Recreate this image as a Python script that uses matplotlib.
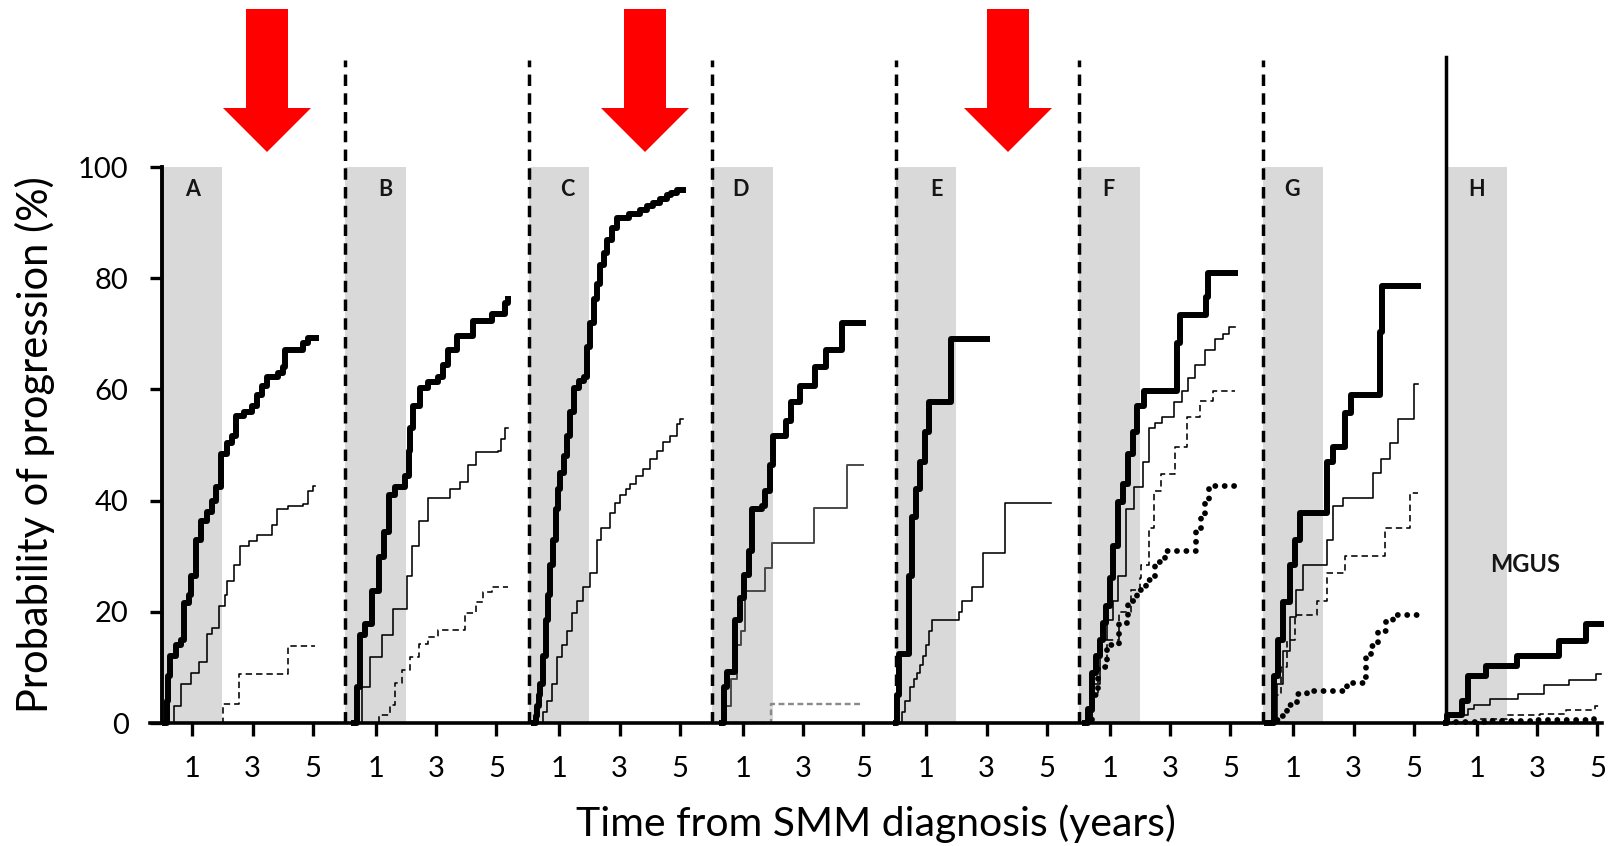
import numpy as np
import matplotlib
matplotlib.use('Agg')
from matplotlib import pyplot as plt
from matplotlib.patches import Polygon

plt.rcParams['font.family'] = ['Lato', 'DejaVu Sans']

# panels and labels
letters = ['A', 'B', 'C', 'D', 'E', 'F', 'G', 'H']
letter_x = [1.0, 1.33, 1.26, 0.92, 1.33, 0.96, 0.95, 0.99]
tick_years = [1, 3, 5]

# panel A
a_thick_t = [0.1, 0.15, 0.2, 0.25, 0.47, 0.63, 0.74, 0.9, 0.96, 1.13, 1.29, 1.5, 1.67, 1.78, 1.95,
             2.16, 2.33, 2.44, 2.71, 2.98, 3.15, 3.31, 3.48, 3.86, 4.02, 4.08, 4.68, 4.84, 5.1]
a_thick_p = [0, 4, 8.5, 12, 14, 15, 21.5, 23, 26.5, 33, 36.4, 38, 40, 42.4, 48.4,
             50.4, 51.7, 55.3, 56, 57, 59, 60.7, 62.3, 63, 64, 67, 68.3, 69.3, 69.3]
a_thin_t = [0.2, 0.41, 0.63, 0.96, 1.23, 1.5, 1.67, 1.89, 2.1, 2.16, 2.38, 2.6, 2.87, 3.15, 3.64,
            3.8, 4.19, 4.68, 4.84, 5.0, 5.08]
a_thin_p = [0, 3, 7, 9, 11, 16, 17, 21, 23, 25.5, 28.4, 31.8, 32.8, 33.8, 35.7,
            38.4, 39, 39.4, 41.7, 42.7, 42.7]
a_dash_t = [2.0, 2.01, 2.55, 4.19, 5.08]
a_dash_p = [0, 3.5, 8.8, 13.8, 13.8]

# panel B
b_thick_t = [0.27, 0.38, 0.49, 0.66, 0.88, 1.1, 1.26, 1.43, 1.65, 1.98, 2.09, 2.14, 2.25, 2.47,
             2.75, 3.08, 3.24, 3.41, 3.68, 4.23, 4.84, 5.27, 5.38]
b_thick_p = [0, 6.5, 15.8, 17.8, 23.8, 29.8, 34.4, 41, 42.4, 44.4, 49, 53, 57, 60.3,
             61.3, 62.3, 64.3, 67, 69.6, 72.3, 73.6, 75.6, 76.3]
b_thin_t = [0.33, 0.55, 0.82, 1.2, 1.59, 2.03, 2.2, 2.42, 2.75, 3.46, 3.79, 4.07, 4.34, 5.05,
            5.16, 5.3, 5.38]
b_thin_p = [0, 6.5, 11.8, 15.8, 20.5, 26.4, 31.8, 36.4, 40.4, 42, 43.4, 46.4, 48.7, 49,
            51, 53, 53]
b_dash_t = [0.77, 1.1, 1.48, 1.65, 1.87, 2.14, 2.42, 2.75, 3.08, 3.96, 4.34, 4.56, 4.84, 5.38]
b_dash_p = [0, 1.5, 3.2, 7.2, 9.5, 11.8, 14.2, 15.5, 16.8, 19.8, 21.8, 23.5, 24.5, 24.5]

# panel C
c_thick_t = [0.16, 0.22, 0.27, 0.33, 0.38, 0.46, 0.55, 0.63, 0.71, 0.8, 0.88, 0.96, 1.04, 1.15,
             1.26, 1.37, 1.48, 1.65, 1.81, 1.92, 2.03, 2.14, 2.25, 2.36, 2.47, 2.58, 2.75,
             2.91, 3.3, 3.68, 3.9, 4.12, 4.35, 4.56, 4.72, 4.89, 5.1]
c_thick_p = [0, 1.2, 3, 5, 7, 12, 18.5, 23, 28.4, 33, 38.4, 42, 45, 48,
             51.7, 56, 60.3, 61.5, 62.3, 67.6, 72, 76.3, 79, 82.3, 84.5, 86.9, 89,
             90.9, 91.5, 92.2, 93, 93.6, 94.2, 94.9, 95.4, 95.9, 95.9]
c_thin_t = [0.27, 0.45, 0.6, 0.75, 0.93, 1.1, 1.25, 1.43, 1.6, 1.8, 2.03, 2.25, 2.4, 2.69,
            2.85, 3.02, 3.2, 3.35, 3.55, 3.79, 4.0, 4.23, 4.45, 4.67, 4.89, 5.02, 5.1]
c_thin_p = [0, 2, 3.9, 7, 11.8, 14, 16.5, 19.8, 22, 24.5, 27, 33, 35, 37.7,
            39.5, 41, 42, 43, 44.5, 45.7, 47.5, 49, 50.5, 51.7, 53.7, 54.7, 54.7]

# panel D
d_thick_t = [0.33, 0.38, 0.49, 0.76, 0.92, 1.03, 1.2, 1.3, 1.63, 1.74, 1.9, 2.01, 2.45, 2.6,
             2.9, 3.4, 3.75, 4.3, 5.0]
d_thick_p = [0, 6.5, 9.2, 18.5, 22.5, 26.6, 31, 38.4, 39, 41.7, 46.4, 51.7, 54.4, 57.7,
             60.7, 64, 67, 72, 72]
d_thin_t = [0.35, 0.45, 0.6, 0.8, 0.95, 1.09, 1.74, 1.96, 3.37, 4.46, 5.0]
d_thin_p = [0, 3, 8, 14, 16.5, 23.8, 27.8, 32.4, 38.7, 46.4, 46.4]
d_dash_t = [0.3, 1.93, 5.0]
d_dash_p = [0, 3.5, 3.5]

# panel E
e_thick_t = [0.0, 0.05, 0.1, 0.43, 0.54, 0.65, 0.8, 0.97, 1.08, 1.83, 3.0]
e_thick_p = [0, 5, 12.5, 26.4, 37, 42, 47, 52.4, 57.7, 69, 69]
e_thin_t = [0.05, 0.2, 0.3, 0.48, 0.6, 0.7, 0.8, 0.91, 1.0, 1.08, 1.18, 2.1, 2.2, 2.53, 2.9,
            3.6, 5.15]
e_thin_p = [0, 2, 4, 6.5, 8, 9, 10.5, 12, 14, 16.5, 18.5, 20, 22, 24.5, 30.5,
            39.5, 39.5]

# panel F
f_thick_t = [0.18, 0.28, 0.4, 0.55, 0.67, 0.78, 0.89, 1.0, 1.11, 1.27, 1.43, 1.6, 1.76, 1.92,
             2.14, 3.23, 3.34, 4.2, 4.26, 5.15]
f_thick_p = [0, 2.5, 9, 12, 15, 18, 21, 26, 31.8, 39.7, 43, 48.4, 52.4, 57,
             59.7, 68.3, 73.3, 76.6, 81, 81]
f_thin_t = [0.2, 0.4, 0.67, 0.9, 1.1, 1.27, 1.54, 1.82, 2.09, 2.3, 2.5, 2.74, 3.12, 3.39, 3.6,
            3.83, 4.15, 4.48, 4.75, 4.97, 5.15]
f_thin_p = [0, 7, 15, 18.5, 22, 26.4, 38.4, 42.4, 47, 53, 54, 55, 57.7, 59.7, 62,
            64.3, 67, 69, 70, 71.3, 71.3]
f_dash_t = [0.2, 0.4, 0.6, 0.9, 1.3, 1.7, 2.0, 2.05, 2.3, 2.47, 2.7, 3.17, 3.55, 3.99, 4.42, 5.15]
f_dash_p = [0, 5, 10, 15, 20, 24, 26, 28.4, 35, 41.7, 44.7, 49.7, 55, 58, 59.7, 59.7]
f_dot_t = [0.2, 0.4, 0.6, 0.9, 1.3, 1.6, 1.9, 2.2, 2.5, 2.83, 3.87, 4.03, 4.15, 4.3, 5.15]
f_dot_p = [0, 5, 10, 14, 18, 22, 24, 25.8, 29, 31, 34.4, 37, 40, 42.7, 42.7]

# panel G
g_thick_t = [0.13, 0.35, 0.5, 0.68, 0.9, 1.05, 1.23, 2.13, 2.33, 2.71, 2.93, 3.87, 3.95, 5.15]
g_thick_p = [0, 8.5, 15, 21.8, 28.4, 33, 37.7, 47, 49.7, 55.7, 59, 70.3, 78.6, 78.6]
g_thin_t = [0.2, 0.45, 0.68, 0.9, 1.1, 1.34, 2.11, 2.33, 2.66, 3.65, 3.9, 4.2, 4.47, 5.02, 5.15]
g_thin_p = [0, 7, 13, 19, 24, 28.4, 33, 39, 40.4, 45, 47.5, 50.4, 54.7, 61, 61]
g_dash_t = [0.2, 0.4, 0.6, 0.8, 1.07, 1.78, 2.11, 2.72, 4.03, 4.86, 5.15]
g_dash_p = [0, 5, 10, 15, 19.5, 22, 27, 30, 35, 41.4, 41.4]
g_dot_t = [0.25, 0.4, 0.57, 0.79, 1.12, 1.45, 2.77, 3.32, 3.43, 3.59, 3.82, 4.09, 4.31, 5.15]
g_dot_p = [0, 0.6, 1.2, 3.2, 5.2, 5.8, 7.2, 8.2, 11.8, 13.8, 16.5, 18.5, 19.5, 19.5]

# panel H (MGUS)
h_thick_t = [0.0, 0.02, 0.5, 0.72, 1.3, 2.35, 3.72, 4.63, 5.12]
h_thick_p = [0, 1.5, 4, 8.5, 10.3, 12, 14.8, 17.8, 17.8]
h_thin_t = [0.0, 0.02, 0.72, 0.9, 1.44, 2.36, 3.24, 4.06, 4.97, 5.12]
h_thin_p = [0, 1.5, 2.6, 3.2, 4.4, 5.3, 6.8, 7.7, 8.8, 8.8]
h_dash_t = [0.2, 1.1, 2.0, 3.1, 3.95, 4.93, 5.12]
h_dash_p = [0.2, 0.8, 1.4, 1.7, 2.3, 3.0, 3.0]
h_dot_t = [0.3, 1.5, 3.0, 4.9, 5.12]
h_dot_p = [0.2, 0.4, 0.5, 0.8, 0.8]

curves = [
    (0, a_thick_t, a_thick_p, 'thick'), (0, a_thin_t, a_thin_p, 'thin'), (0, a_dash_t, a_dash_p, 'dash'),
    (1, b_thick_t, b_thick_p, 'thick'), (1, b_thin_t, b_thin_p, 'thin'), (1, b_dash_t, b_dash_p, 'dash'),
    (2, c_thick_t, c_thick_p, 'thick'), (2, c_thin_t, c_thin_p, 'thin'),
    (3, d_thin_t, d_thin_p, 'grey'), (3, d_dash_t, d_dash_p, 'greydash'), (3, d_thick_t, d_thick_p, 'thick'),
    (4, e_thick_t, e_thick_p, 'thick'), (4, e_thin_t, e_thin_p, 'thin'),
    (5, f_dot_t, f_dot_p, 'dot'), (5, f_dash_t, f_dash_p, 'dash'), (5, f_thin_t, f_thin_p, 'thin'),
    (5, f_thick_t, f_thick_p, 'thick'),
    (6, g_dot_t, g_dot_p, 'dot'), (6, g_dash_t, g_dash_p, 'dash'), (6, g_thin_t, g_thin_p, 'thin'),
    (6, g_thick_t, g_thick_p, 'thick'),
    (7, h_dot_t, h_dot_p, 'dot'), (7, h_dash_t, h_dash_p, 'dash'), (7, h_thin_t, h_thin_p, 'thin'),
    (7, h_thick_t, h_thick_p, 'thick'),
]

styles = {
    'thick': dict(color='black', lw=4.3),
    'thin': dict(color='black', lw=1.15),
    'dash': dict(color='black', lw=1.15, ls=(0, (4, 2.5))),
    'dot': dict(color='black', lw=4.2, ls=(0, (0.01, 1.6)), dash_capstyle='round'),
    'grey': dict(color='#4a4a4a', lw=1.4),
    'greydash': dict(color='#8a8a8a', lw=1.7, ls=(0, (2.5, 1.5))),
}

W = 6.08  # width of one panel in years
px_per_year = 30.18

fig = plt.figure(figsize=(16.16, 8.46), dpi=100)
ax = fig.add_axes([150 / 1616, 123 / 846, (1602 - 150) / 1616, 556 / 846])
ax.set_xlim(-12 / px_per_year, (1602 - 162) / px_per_year)
ax.set_ylim(0, 100)

for i in range(len(letters)):
    off = i * W
    ax.axvspan(off, off + 2, color='#d9d9d9', lw=0, zorder=0)
    ax.text(off + letter_x[i], 96, letters[i], fontsize=15.5, fontweight='bold',
            ha='center', va='center', color='#151515')
    if i > 0:
        if i < 7:
            ax.plot([off, off], [0, 119.2], color='black', lw=2.5, ls=(0, (3.3, 2.1)),
                    clip_on=False, zorder=3)
        else:
            ax.plot([off, off], [0, 119.8], color='black', lw=2.5, clip_on=False, zorder=3)

for i, t, p, st in curves:
    ax.step(np.array(t) + i * W, p, where='post', clip_on=False, zorder=4, **styles[st])

ax.text(7 * W + 2.6, 28.5, 'MGUS', fontsize=17, fontweight='bold', ha='center', va='center',
        color='#151515')

# axes styling
for s in ['top', 'right']:
    ax.spines[s].set_visible(False)
ax.spines['left'].set_position(('data', 0))
ax.spines['left'].set_bounds(0, 100)
ax.spines['left'].set_linewidth(2.8)
ax.spines['left'].set_zorder(5)
ax.spines['bottom'].set_linewidth(2.6)
ax.spines['bottom'].set_zorder(5)
ax.set_yticks([0, 20, 40, 60, 80, 100])
ax.set_yticklabels(['0', '20', '40', '60', '80', '100'])
xt = [i * W + y for i in range(len(letters)) for y in tick_years]
ax.set_xticks(xt)
ax.set_xticklabels([str(y) for i in range(len(letters)) for y in tick_years])
ax.tick_params(axis='both', direction='out', length=9, width=2.4, labelsize=21,
               pad=15, colors='black')

fig.text(0.0215, 1 - 445 / 846, 'Probability of progression (%)', rotation=90, fontsize=30,
         ha='center', va='center')
fig.text(0.542, 0.026, 'Time from SMM diagnosis (years)', fontsize=29.5, ha='center', va='center')

# red arrows above panels A, C and E (figure pixels)
arrow_tip_x = [267, 645, 1008]
for x in arrow_tip_x:
    pts = [(x - 21, 9), (x + 21, 9), (x + 21, 108), (x + 44, 108), (x, 152),
           (x - 44, 108), (x - 21, 108)]
    pts = [(px / 1616, 1 - py / 846) for px, py in pts]
    fig.patches.append(Polygon(pts, closed=True, transform=fig.transFigure,
                               facecolor='#ff0000', edgecolor='none'))

fig.savefig('out.png', dpi=100)
